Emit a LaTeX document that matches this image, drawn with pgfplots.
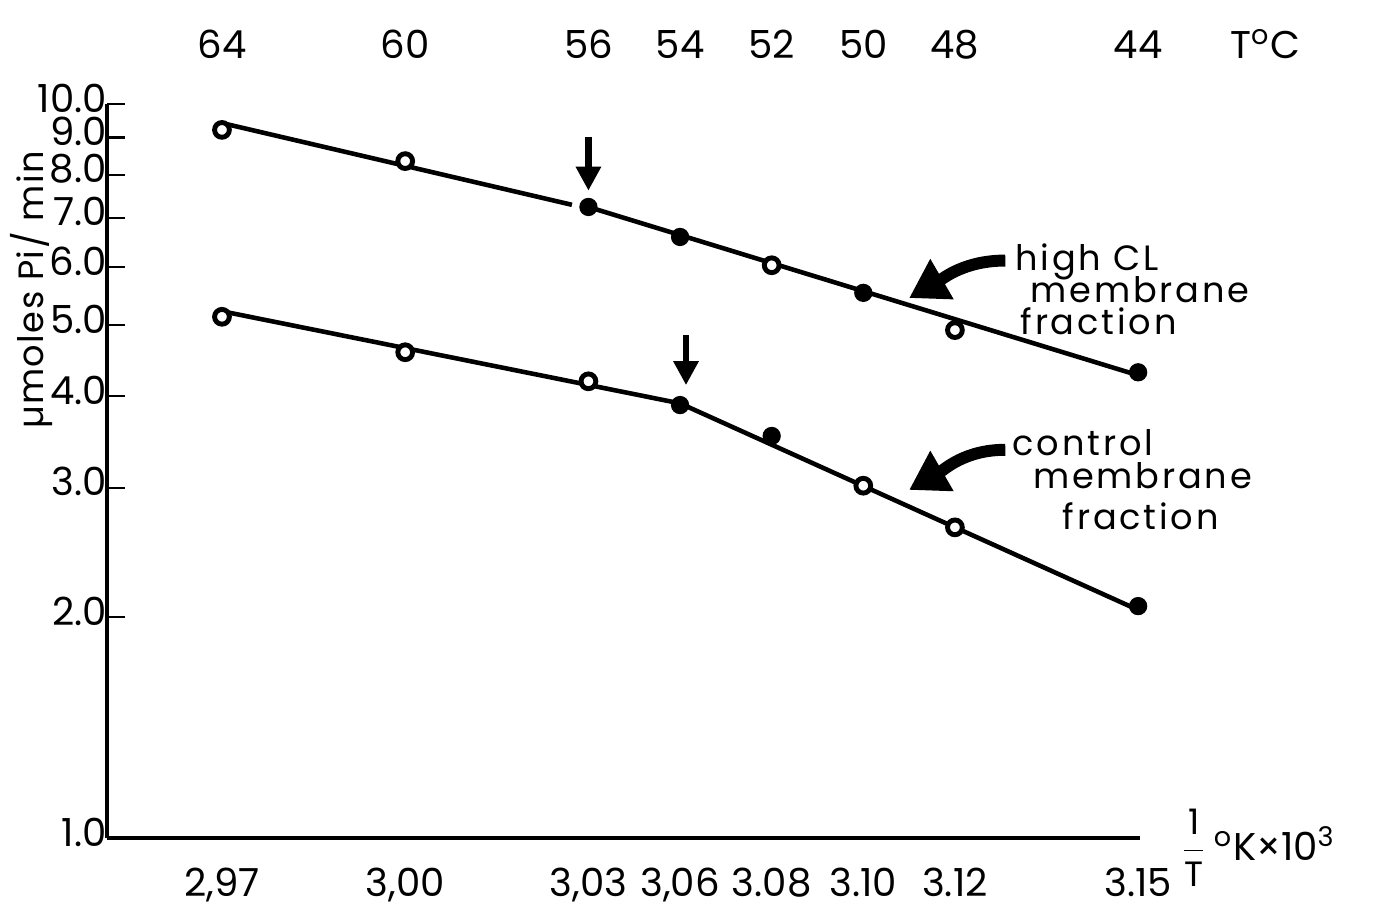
\documentclass[border=0pt]{standalone}
\usepackage{pgfplots}
\pgfplotsset{compat=1.18}
\usepackage{fontspec}
\setmainfont{Poppins}
\newfontfamily\spaced[LetterSpace=8]{Poppins}
\newfontfamily\lspaced[LetterSpace=4]{Poppins}
\usetikzlibrary{arrows.meta}
\newcommand{\mumark}{\symbol{"00B5}}
\newcommand{\timesmark}{\symbol{"00D7}}
\begin{document}
\begin{tikzpicture}[font=\fontsize{11}{13}\selectfont]
\begin{axis}[
  scale only axis, width=103.3mm, height=73.4mm,
  x dir=reverse, xmin=43.96, xmax=66.51,
  ymode=log, ymin=1, ymax=10,
  axis x line*=bottom, axis y line*=left,
  axis line style={line width=1.4pt},
  xtick={64,60,56,54,52,50,48,44},
  xticklabels={{2,97},{3,00},{3,03},{3,06},{3.08},{3.10},{3.12},{3.15}},
  x tick style={draw=none},
  xticklabel style={anchor=base, yshift=-5.8mm},
  ytick={1,2,3,4,5,6,7,8,9,10},
  yticklabels={1.0,2.0,3.0,4.0,5.0,6.0,7.0,8.0,9.0,10.0},
  yminorticks=false,
  y tick style={line width=0.7pt, black},
  tick align=inside, major tick length=1.8mm,
  yticklabel style={anchor=east, yshift=0.6mm, xshift=0.4mm, inner sep=1pt},
  tick label style={font=\fontsize{11}{13}\selectfont},
  ylabel={\mumark moles Pi/ min},
  ylabel style={at={(axis description cs:-0.0735,0.7466)}, anchor=center, font=\lspaced\fontsize{10}{12}\selectfont},
  clip=false,
]
% fitted lines
\addplot[black, line width=1.3pt] coordinates {(64,9.42) (56.36,7.29)};
\addplot[black, line width=1.3pt] coordinates {(56.0,7.24) (44,4.27)};
\addplot[black, line width=1.3pt] coordinates {(64,5.22) (54,3.91)};
\addplot[black, line width=1.3pt] coordinates {(54,3.91) (44,2.045)};
% high CL membrane fraction
\addplot[only marks, mark=*, mark size=2.1pt, mark options={fill=white, draw=black, line width=1.4pt}] coordinates {(64,9.22) (60,8.36) (52,6.03) (48,4.92)};
\addplot[only marks, mark=*, mark size=2.4pt, black] coordinates {(56,7.24) (54,6.59) (50,5.53) (44,4.31)};
% control membrane fraction
\addplot[only marks, mark=*, mark size=2.1pt, mark options={fill=white, draw=black, line width=1.4pt}] coordinates {(64,5.13) (60,4.59) (56,4.19) (50,3.02) (48,2.65)};
\addplot[only marks, mark=*, mark size=2.4pt, black] coordinates {(54,3.89) (52,3.53) (44,2.07)};
% down arrows at breaks
\draw[line width=1.8pt, -{Triangle[length=2.4mm,width=2.4mm]}] (axis cs:56,9.02) -- (axis cs:56,7.62);
\draw[line width=1.8pt, -{Triangle[length=2.4mm,width=2.4mm]}] (axis cs:53.87,4.84) -- (axis cs:53.87,4.14);
% curved arrows
\draw[line width=3.4pt, -{Triangle[length=3.8mm,width=4.4mm]}] (axis cs:46.9,6.12) to[out=180, in=30] (axis cs:49.0,5.44);
\draw[line width=3.4pt, -{Triangle[length=3.8mm,width=4.4mm]}] (axis cs:46.9,3.38) to[out=180, in=30] (axis cs:49.0,2.98);
% annotations
\node[anchor=base west, inner sep=0, font=\spaced\fontsize{10}{12}\selectfont] at (axis cs:46.69,5.94) {high CL};
\node[anchor=base west, inner sep=0, font=\spaced\fontsize{10}{12}\selectfont] at (axis cs:46.36,5.37) {membrane};
\node[anchor=base west, inner sep=0, font=\spaced\fontsize{10}{12}\selectfont] at (axis cs:46.58,4.85) {fraction};
\node[anchor=base west, inner sep=0, font=\spaced\fontsize{10}{12}\selectfont] at (axis cs:46.75,3.32) {control};
\node[anchor=base west, inner sep=0, font=\spaced\fontsize{10}{12}\selectfont] at (axis cs:46.31,2.99) {membrane};
\node[anchor=base west, inner sep=0, font=\spaced\fontsize{10}{12}\selectfont] at (axis cs:45.66,2.63) {fraction};
% top temperature scale
\pgfplotsinvokeforeach{64,60,56,54,52,50,48,44}{
  \node[anchor=base, inner sep=0, yshift=4.6mm] at (axis cs:#1,10) {#1};
}
\node[anchor=base, inner sep=0, yshift=4.6mm] at (axis cs:41.23,10) {T\textsuperscript{o}C};
% x axis label
\node[anchor=west, inner sep=0] at (axis cs:43.1,0.97) {$\displaystyle\frac{\hbox{\fontsize{10}{11}\selectfont 1}}{\hbox{\fontsize{10}{11}\selectfont T}}$\,\textsuperscript{o}K\timesmark 10\textsuperscript{3}};
\coordinate (BL) at (axis cs:66.51,1);
\coordinate (TR) at (axis cs:43.96,10);
\end{axis}
\pgfresetboundingbox
\path ([shift={(-10.7mm,-7mm)}]BL) rectangle ([shift={(23.4mm,10.4mm)}]TR);
\end{tikzpicture}
\end{document}
